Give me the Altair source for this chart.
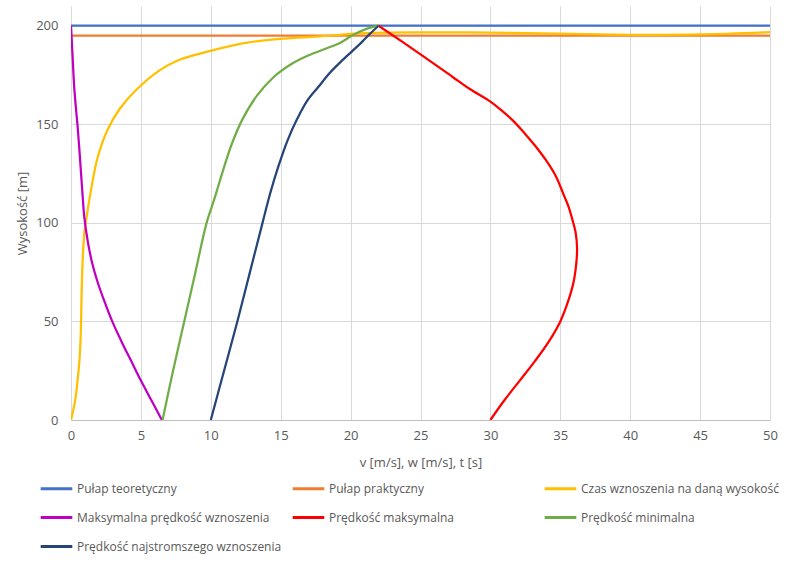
import altair as alt
import pandas as pd

series_names = [
    "Pułap teoretyczny",
    "Pułap praktyczny",
    "Czas wznoszenia na daną wysokość",
    "Maksymalna prędkość wznoszenia",
    "Prędkość maksymalna",
    "Prędkość minimalna",
    "Prędkość najstromszego wznoszenia",
]
series_colors = ["#4472C4", "#ED7D31", "#FFC000", "#C000C0", "#FF0000", "#70AD47", "#264478"]

# Pułap teoretyczny
teo_x = [0, 50]
teo_y = [200, 200]
# Pułap praktyczny
prak_x = [0, 50]
prak_y = [195, 195]
# Czas wznoszenia na daną wysokość
czas_x = [0, 0.3, 0.47, 0.6, 0.68, 0.72, 0.78, 0.86, 0.97, 1.14, 1.43, 1.9, 2.6, 3.5, 4.6, 6.25, 7.67,
          9.9, 12.6, 15.5, 18.2, 21.0, 25.0, 30.0, 35.0, 40.0, 45.0, 50.0]
czas_y = [0, 10, 20, 30, 40, 50, 70, 85, 96, 104, 116.6, 133, 147, 158, 167, 177, 182.5,
          187.1, 191.4, 193.6, 194.8, 196.2, 196.6, 196.5, 196, 195.4, 195.6, 196.8]
# Maksymalna prędkość wznoszenia
maxw_x = [6.5, 5.75, 5.0, 4.3, 3.6, 2.95, 2.4, 1.9, 1.5, 1.19, 0.95, 0.84, 0.72, 0.6, 0.46, 0.33, 0.22, 0.11, 0]
maxw_y = [0, 10, 20, 30, 40, 50, 60, 70, 80, 91, 103, 113, 125, 137, 150, 160, 170, 185, 200]
# Prędkość maksymalna
vmax_x = [30, 31, 32.1, 33.2, 34.2, 35, 35.55, 35.95, 36.15, 36.2, 36.1, 35.85, 35.6, 35.2, 34.7, 34.05,
          33.26, 32.5, 31.6, 30.8, 30, 28.5, 27.3, 24.9, 22]
vmax_y = [0, 10, 20, 30, 40, 50, 60, 70, 80, 87, 95, 102, 108, 115, 123.4, 131,
          138.6, 145, 152, 157, 161.5, 168, 174, 186, 200]
# Prędkość minimalna
vmin_x = [6.55, 7.3, 8.1, 8.9, 9.7, 10.25, 10.85, 11.5, 12.3, 13.3, 14.5, 15.8, 17.0, 18.2, 19.3, 20.1, 21.0, 22]
vmin_y = [0, 25, 50, 75, 100, 112, 126, 140, 153, 164.5, 174, 180.7, 185, 188.3, 191.5, 195, 198, 200]
# Prędkość najstromszego wznoszenia
vst_x = [10, 10.95, 11.9, 12.8, 13.7, 14.25, 14.85, 15.5, 16.2, 16.9, 17.7, 18.5, 19.4, 20.1, 20.8, 21.4, 22]
vst_y = [0, 25, 50, 75, 100, 115, 129, 142, 153, 162, 169, 176, 182.4, 187, 191.7, 196, 200]

x_ticks = [0, 5, 10, 15, 20, 25, 30, 35, 40, 45, 50]
y_ticks = [0, 50, 100, 150, 200]

all_series = [
    (teo_x, teo_y), (prak_x, prak_y), (czas_x, czas_y), (maxw_x, maxw_y),
    (vmax_x, vmax_y), (vmin_x, vmin_y), (vst_x, vst_y),
]
rows = []
for name, (xs, ys) in zip(series_names, all_series):
    for i, (xv, yv) in enumerate(zip(xs, ys)):
        rows.append({"series": name, "x": xv, "y": yv, "i": i})
df = pd.DataFrame(rows)

FONT = "Open Sans"
TXT = "#595959"

chart = alt.Chart(df).mark_line(strokeWidth=2.25, interpolate="catmull-rom", clip=True).encode(
    x=alt.X("x:Q", title="v [m/s], w [m/s], t [s]",
            scale=alt.Scale(domain=[0, 50], nice=False, zero=False),
            axis=alt.Axis(values=x_ticks, ticks=False, labelPadding=9, titlePadding=14,
                          domain=True, domainColor="#BFBFBF", labelFlush=False,
                          titleFontWeight="normal")),
    y=alt.Y("y:Q", title="Wysokość [m]",
            scale=alt.Scale(domain=[0, 210], nice=False, zero=False),
            axis=alt.Axis(values=y_ticks, ticks=False, labelPadding=13, titlePadding=6,
                          domain=False, labelFlush=False, titleFontWeight="normal")),
    color=alt.Color("series:N", scale=alt.Scale(domain=series_names, range=series_colors),
                    legend=alt.Legend(title=None, orient="none", legendX=-32, legendY=465,
                                      columns=3, direction="horizontal",
                                      symbolType="stroke", symbolSize=1000, symbolStrokeWidth=3,
                                      labelFontSize=12, labelFont=FONT, labelColor=TXT,
                                      labelOffset=3, columnPadding=4, rowPadding=5,
                                      gridAlign="all", labelLimit=400)),
    order=alt.Order("i:Q"),
).properties(
    width=699, height=414,
    autosize=alt.AutoSizeParams(type="none"),
    padding={"left": 71, "top": 6, "right": 28, "bottom": 154},
    background="white",
).configure_view(stroke=None).configure_axis(
    gridColor="#D9D9D9", gridWidth=1, labelFont=FONT, titleFont=FONT,
    labelFontSize=13, titleFontSize=13, labelColor=TXT, titleColor=TXT, titleFontWeight="normal",
)

chart.save("out.html", embed_options={"renderer": "svg", "actions": False})
